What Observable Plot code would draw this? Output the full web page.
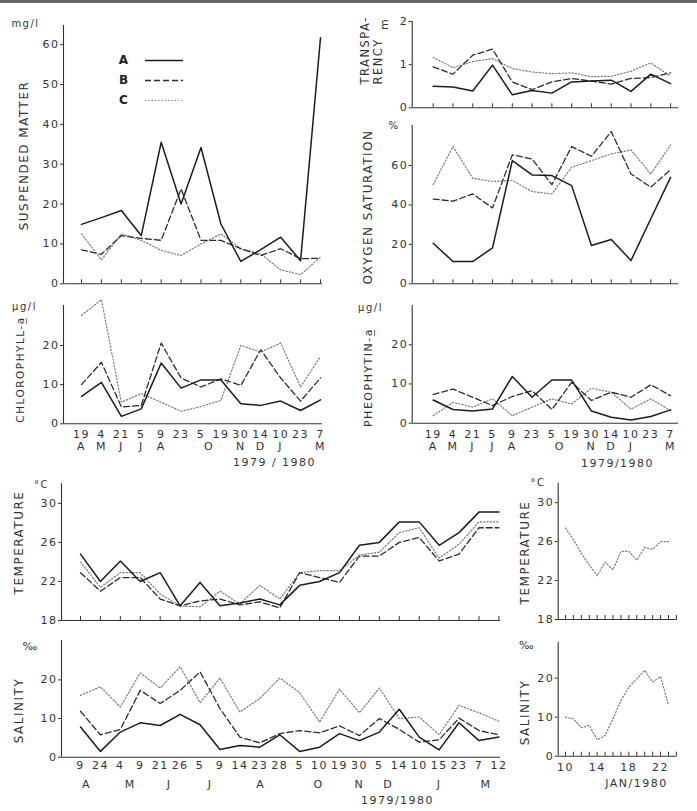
<!DOCTYPE html>
<html><head><meta charset="utf-8">
<script src="https://cdn.jsdelivr.net/npm/d3@7"></script>
<script src="https://cdn.jsdelivr.net/npm/@observablehq/plot@0.6"></script>
<style>
body{margin:0;background:#fff;}
#fig{position:relative;width:697px;height:811px;overflow:hidden;background:#fff;}
#fig svg{position:absolute;left:0;top:0;overflow:visible;background:transparent !important;}
#topline{position:absolute;left:0;top:0;width:697px;height:3px;background:#666;}
</style></head><body><div id="fig"><div id="topline"></div></div>
<script>
// ---------------- data ----------------
const stations = ["A", "B", "C"];

// 13 surveys (upper panels)
const surveyDays = ["19","4","21","5","9","23","5","19","30","14","10","23","7"];
const surveyMonths = [
  {m:"A", at:0},{m:"M", at:1},{m:"J", at:2},{m:"J", at:3},{m:"A", at:4},
  {m:"O", at:6.4},{m:"N", at:8},{m:"D", at:9},{m:"J", at:10},{m:"M", at:12}
];
const suspendedA = [14.9, 16.6, 18.4, 12.1, 35.5, 20.0, 34.2, 15.0, 5.6, 8.6, 11.7, 5.8, 61.7];
const suspendedB = [8.5, 7.4, 12.1, 11.4, 10.9, 23.8, 10.9, 10.9, 8.8, 7.1, 8.8, 6.3, 6.4];
const suspendedC = [12.5, 6.0, 12.5, 10.9, 8.4, 7.1, 10.0, 12.5, 8.8, 7.5, 3.5, 2.3, 6.7];

const transparencyA = [0.50, 0.48, 0.39, 0.99, 0.30, 0.40, 0.34, 0.60, 0.62, 0.64, 0.38, 0.78, 0.56];
const transparencyB = [0.95, 0.78, 1.22, 1.36, 0.60, 0.42, 0.60, 0.68, 0.62, 0.55, 0.68, 0.70, 0.81];
const transparencyC = [1.17, 0.93, 1.07, 1.14, 0.91, 0.83, 0.79, 0.81, 0.72, 0.73, 0.85, 1.04, 0.73];

const oxygenA = [20.6, 11.3, 11.3, 18.2, 62.5, 55.2, 54.9, 49.8, 19.4, 22.5, 11.8, 33.0, 54.0];
const oxygenB = [43.0, 41.9, 45.6, 38.5, 65.4, 63.3, 50.3, 69.6, 64.7, 77.2, 55.7, 49.0, 57.9];
const oxygenC = [50.3, 69.6, 53.5, 51.9, 52.4, 46.8, 45.6, 59.1, 62.5, 65.9, 67.9, 55.7, 70.4];

const chlorophyllA = [7.0, 10.6, 1.9, 3.8, 15.5, 9.1, 11.2, 11.2, 5.1, 4.7, 5.8, 3.4, 6.1];
const chlorophyllB = [10.0, 15.7, 4.3, 4.7, 20.6, 11.7, 9.4, 11.5, 9.8, 18.9, 11.7, 5.8, 11.7];
const chlorophyllC = [27.7, 31.7, 5.5, 7.7, 5.5, 3.2, 4.4, 6.0, 20.0, 18.3, 20.6, 9.4, 17.2];

const pheophytinA = [5.9, 3.5, 3.1, 3.6, 11.9, 6.6, 11.0, 11.0, 3.1, 1.5, 0.8, 1.7, 3.4];
const pheophytinB = [7.3, 8.7, 6.6, 4.5, 6.8, 8.3, 3.5, 10.4, 5.8, 7.9, 6.6, 9.8, 7.0];
const pheophytinC = [1.9, 5.3, 4.1, 6.2, 1.9, 4.1, 6.2, 4.9, 8.9, 7.9, 3.6, 6.2, 3.2];

// 22 surveys (lower panels)
const longDays = ["9","24","4","9","21","26","5","9","14","23","28","5","10","19","30","5","14","10","15","23","7","12"];
const longMonths = [
  {m:"A", at:0.3},{m:"M", at:2.5},{m:"J", at:4.45},{m:"J", at:6.5},{m:"A", at:9.05},
  {m:"O", at:11.95},{m:"N", at:14},{m:"D", at:15.45},{m:"J", at:18},{m:"M", at:20.35}
];
const temperatureA = [24.8, 22.0, 24.1, 22.0, 22.9, 19.5, 21.9, 19.5, 19.8, 20.2, 19.6, 21.6, 22.0, 22.9, 25.7, 26.0, 28.1, 28.1, 25.7, 27.0, 29.1, 29.1];
const temperatureB = [22.9, 21.0, 22.4, 22.4, 20.2, 19.5, 20.0, 20.2, 19.6, 19.9, 19.3, 22.9, 22.4, 21.9, 24.6, 24.6, 26.0, 26.5, 24.1, 24.8, 27.5, 27.5];
const temperatureC = [24.0, 21.4, 22.9, 22.9, 20.7, 19.5, 19.4, 21.0, 19.7, 21.6, 20.2, 22.9, 23.1, 23.1, 24.7, 25.0, 27.0, 27.5, 24.4, 25.8, 28.1, 28.1];

const salinityA = [7.8, 1.5, 6.5, 8.9, 8.2, 11.1, 8.4, 2.0, 3.0, 2.6, 5.8, 1.5, 2.6, 6.1, 4.3, 6.5, 12.4, 5.2, 1.9, 8.9, 4.3, 5.2];
const salinityB = [11.9, 5.8, 7.2, 17.3, 13.9, 17.3, 22.1, 12.6, 5.2, 3.7, 6.1, 6.9, 6.3, 8.1, 5.6, 10.0, 7.2, 3.9, 4.5, 10.1, 6.9, 5.8];
const salinityC = [16.0, 18.2, 13.0, 21.8, 17.9, 23.4, 14.1, 20.5, 11.7, 15.2, 20.5, 16.7, 9.1, 17.6, 11.5, 17.9, 10.0, 10.4, 5.8, 13.4, 11.5, 9.3];

// January 1980 daily series (station C)
const janDays = [10, 11, 12, 13, 14, 15, 16, 17, 18, 19, 20, 21, 22, 23];
const janTemperatureC = [27.4, 26.2, 24.8, 23.6, 22.5, 23.9, 23.1, 25.0, 25.0, 24.1, 25.4, 25.2, 26.0, 26.0];
const janSalinityC = [10.0, 9.6, 7.3, 7.9, 4.2, 5.3, 9.6, 14.3, 17.7, 19.8, 22.0, 19.0, 20.4, 13.0];
const janTickDays = [10, 11, 12, 13, 14, 15, 16, 17, 18, 19, 20, 21, 22, 23, 24];
const janLabelDays = [10, 14, 18, 22];

// ---------------- drawing ----------------
const W = 697, H = 811;
const INK = "#333";
const FONT = "'DejaVu Sans', sans-serif";
const lineStyle = {
  A: {stroke: "#1c1c1c", strokeWidth: 1.5},
  B: {stroke: "#2c2c2c", strokeWidth: 1.3, strokeDasharray: "6,3"},
  C: {stroke: "#7a7a7a", strokeWidth: 1.2, strokeDasharray: "1.3,2"}
};
const idx = n => d3.range(n);

function panel({box, xDomain, yDomain, yTicks, lines, xTicks, labels = [], notes = []}) {
  const [left, right, bottom, top] = box;
  const ml = left, mr = W - right, mt = top, mb = H - bottom, fh = bottom - top;
  const marks = [
    Plot.ruleX([xDomain[0]], {stroke: INK, strokeWidth: 1.1}),
    Plot.ruleY([yDomain[0]], {stroke: INK, strokeWidth: 1.1})
  ];
  if (xTicks) marks.push(Plot.tickX(xTicks, {x: d => d, insetTop: fh - 4, stroke: INK}));
  for (const [key, values, xs] of lines) {
    marks.push(Plot.line(values, {x: (d, i) => xs ? xs[i] : i, y: d => d, ...lineStyle[key]}));
  }
  for (const l of labels) {
    marks.push(Plot.text(l.data, {x: l.x, text: l.text, frameAnchor: "bottom", lineAnchor: "middle", dy: l.dy, fill: INK, fontSize: 11}));
  }
  for (const n of notes) {
    marks.push(Plot.text([n.text], {
      text: d => d, frameAnchor: "top-left", lineAnchor: "middle", dx: n.x - ml, dy: n.y - mt,
      rotate: n.rotate || 0, textAnchor: n.anchor || "middle",
      fontSize: n.size || 11, fontWeight: n.weight || "normal", fill: INK
    }));
  }
  return Plot.plot({
    width: W, height: H,
    marginLeft: ml, marginRight: mr, marginTop: mt, marginBottom: mb,
    x: {domain: xDomain, axis: null},
    y: {domain: yDomain, ticks: yTicks, tickFormat: d => String(d), tickSize: 3, tickPadding: 1, label: null},
    style: {background: "transparent", fontFamily: FONT, fontSize: "11px", color: INK, letterSpacing: "1.5px", overflow: "visible"},
    marks
  });
}

const upperLeftX = [-0.904, 12.1];
const upperRightX = [-1.06, 12.4];
const lowerX = [-0.954, 21.08];
const janX = [9.08, 24.1];

const panels = [
  panel({
    box: [63, 322, 283.3, 25], xDomain: upperLeftX, yDomain: [0, 64.8], yTicks: [0, 10, 20, 30, 40, 50, 60],
    xTicks: idx(13),
    lines: [["C", suspendedC], ["B", suspendedB], ["A", suspendedA]],
    notes: [
      {text: "mg/l", x: 25, y: 23, size: 10},
      {text: "SUSPENDED MATTER", x: 24, y: 155, rotate: -90, size: 12}
    ]
  }),
  panel({
    box: [411.7, 678, 107.3, 21], xDomain: upperRightX, yDomain: [0, 2], yTicks: [0, 1, 2],
    xTicks: idx(13),
    lines: [["C", transparencyC], ["B", transparencyB], ["A", transparencyA]],
    notes: [
      {text: "m", x: 384, y: 23.5, rotate: -90, size: 11},
      {text: "TRANSPA-", x: 365, y: 84, rotate: -90, anchor: "start", size: 11.5},
      {text: "RENCY", x: 377.5, y: 84, rotate: -90, anchor: "start", size: 11.5}
    ]
  }),
  panel({
    box: [411.7, 678, 283.3, 125], xDomain: upperRightX, yDomain: [0, 80.3], yTicks: [0, 20, 40, 60],
    xTicks: idx(13),
    lines: [["C", oxygenC], ["B", oxygenB], ["A", oxygenA]],
    notes: [
      {text: "%", x: 393.5, y: 125.5, size: 10},
      {text: "OXYGEN SATURATION", x: 367.5, y: 206.5, rotate: -90, size: 12}
    ]
  }),
  panel({
    box: [63, 322, 423.3, 305], xDomain: upperLeftX, yDomain: [0, 30.2], yTicks: [0, 10, 20],
    lines: [["C", chlorophyllC], ["B", chlorophyllB], ["A", chlorophyllA]],
    labels: [
      {data: surveyDays, x: (d, i) => i, text: d => d, dy: 10.5},
      {data: surveyMonths, x: "at", text: "m", dy: 23}
    ],
    notes: [
      {text: "μg/l", x: 24, y: 306, size: 10},
      {text: "CHLOROPHYLL-a\u0332", x: 20.5, y: 369, rotate: -90, size: 10.5},
      {text: "1979 / 1980", x: 274, y: 462, size: 11}
    ]
  }),
  panel({
    box: [411.7, 678, 422.7, 305], xDomain: upperRightX, yDomain: [0, 30], yTicks: [0, 10, 20],
    lines: [["C", pheophytinC], ["B", pheophytinB], ["A", pheophytinA]],
    labels: [
      {data: surveyDays, x: (d, i) => i, text: d => d, dy: 11},
      {data: surveyMonths, x: "at", text: "m", dy: 23.5}
    ],
    notes: [
      {text: "μg/l", x: 370, y: 307.5, size: 10},
      {text: "PHEOPHYTIN-a\u0332", x: 367.5, y: 377, rotate: -90, size: 11},
      {text: "1979/1980", x: 617, y: 463, size: 11}
    ]
  }),
  panel({
    box: [61, 500, 620, 483.3], xDomain: lowerX, yDomain: [18, 32], yTicks: [18, 22, 26, 30],
    xTicks: idx(22),
    lines: [["C", temperatureC], ["B", temperatureB], ["A", temperatureA]],
    notes: [
      {text: "°C", x: 41, y: 484, size: 10},
      {text: "TEMPERATURE", x: 19, y: 542, rotate: -90, size: 12}
    ]
  }),
  panel({
    box: [61, 500, 756.7, 640], xDomain: lowerX, yDomain: [0, 30.2], yTicks: [0, 10, 20],
    lines: [["C", salinityC], ["B", salinityB], ["A", salinityA]],
    labels: [
      {data: longDays, x: (d, i) => i, text: d => d, dy: 8},
      {data: longMonths, x: "at", text: "m", dy: 27}
    ],
    notes: [
      {text: "‰", x: 30, y: 646, size: 11},
      {text: "SALINITY", x: 18.5, y: 710, rotate: -90, size: 12},
      {text: "1979/1980", x: 397, y: 800, size: 11}
    ]
  }),
  panel({
    box: [557.7, 676.7, 619, 482.7], xDomain: janX, yDomain: [18, 32], yTicks: [18, 22, 26, 30],
    xTicks: janTickDays,
    lines: [["C", janTemperatureC, janDays]],
    notes: [
      {text: "°C", x: 537.5, y: 482.5, size: 10},
      {text: "TEMPERATURE", x: 525, y: 552, rotate: -90, size: 12}
    ]
  }),
  panel({
    box: [557.7, 676.7, 755.7, 641.7], xDomain: janX, yDomain: [0, 29.2], yTicks: [0, 10, 20],
    xTicks: janTickDays,
    lines: [["C", janSalinityC, janDays]],
    labels: [
      {data: janLabelDays, x: d => d, text: d => String(d), dy: 11}
    ],
    notes: [
      {text: "‰", x: 526.5, y: 645, size: 11},
      {text: "SALINITY", x: 525, y: 712, rotate: -90, size: 12},
      {text: "JAN/1980", x: 636, y: 783, size: 11}
    ]
  })
];

// legend for stations (inside the suspended-matter panel)
const legend = Plot.plot({
  width: W, height: H,
  x: {domain: [0, 1], range: [145, 183], axis: null},
  y: {type: "point", domain: stations, range: [60, 100], padding: 0, axis: null},
  style: {background: "transparent", fontFamily: FONT, fontSize: "12px", color: INK, overflow: "visible"},
  marks: [
    ...stations.map(s => Plot.ruleY([s], {y: d => d, x1: 0, x2: 1, ...lineStyle[s]})),
    Plot.text(stations, {y: d => d, x: 0, dx: -22, text: d => d, fontWeight: "bold", fill: "#222"})
  ]
});

const fig = document.getElementById("fig");
for (const p of panels) fig.appendChild(p);
fig.appendChild(legend);
</script>
</body></html>
